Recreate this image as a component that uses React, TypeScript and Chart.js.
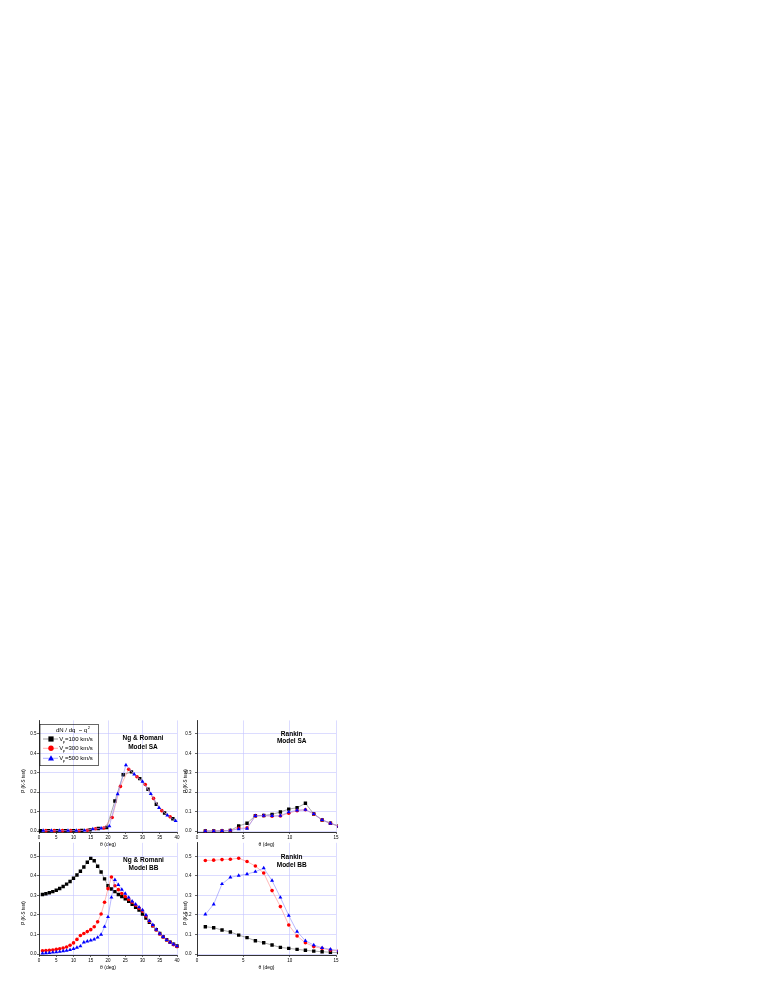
import React, { useEffect, useRef } from "react";
import Chart from "chart.js/auto";

// four P(K-S test) vs theta panels, Origin-style, drawn with Chart.js

// --- Ng & Romani, model SA (series interleave along theta) ---
const ngSaBlackX = [0.4, 2.8, 5.2, 7.6, 10.0, 12.4, 14.8, 17.2, 19.6, 22.0, 24.4, 26.8, 29.2, 31.6, 34.0, 36.4, 38.8];
const ngSaBlackY = [0.002, 0.002, 0.002, 0.002, 0.002, 0.003, 0.006, 0.013, 0.018, 0.155, 0.29, 0.305, 0.27, 0.215, 0.138, 0.093, 0.063];
const ngSaRedX = [2.0, 4.4, 6.8, 9.2, 11.6, 14.0, 16.4, 18.8, 21.2, 23.6, 26.0, 28.4, 30.8, 33.2, 35.6, 38.0];
const ngSaRedY = [0.002, 0.002, 0.002, 0.002, 0.002, 0.004, 0.012, 0.015, 0.07, 0.23, 0.318, 0.28, 0.24, 0.168, 0.105, 0.073];
const ngSaBlueX = [1.2, 3.6, 6.0, 8.4, 10.8, 13.2, 15.6, 18.0, 20.4, 22.8, 25.2, 27.6, 30.0, 32.4, 34.8, 37.2, 39.6];
const ngSaBlueY = [0.002, 0.002, 0.002, 0.002, 0.002, 0.003, 0.01, 0.014, 0.025, 0.19, 0.34, 0.292, 0.255, 0.192, 0.12, 0.081, 0.053];

// --- Ng & Romani, model BB ---
const ngBbX = [
  1, 2, 3, 4, 5, 6, 7, 8, 9, 10, 11, 12, 13, 14, 15, 16, 17, 18, 19, 20,
  21, 22, 23, 24, 25, 26, 27, 28, 29, 30, 31, 32, 33, 34, 35, 36, 37, 38, 39, 40,
];
const ngBbBlack = [
  0.305, 0.309, 0.314, 0.32, 0.327, 0.336, 0.346, 0.358, 0.372, 0.388, 0.405, 0.424, 0.446, 0.47, 0.49, 0.478, 0.45, 0.42, 0.385, 0.35,
  0.333, 0.32, 0.305, 0.295, 0.283, 0.27, 0.255, 0.24, 0.225, 0.205, 0.184, 0.163, 0.145, 0.125, 0.105, 0.088, 0.073, 0.061, 0.05, 0.041,
];
const ngBbRed = [
  0.017, 0.018, 0.019, 0.021, 0.024, 0.027, 0.031, 0.036, 0.045, 0.057, 0.075, 0.095, 0.105, 0.115, 0.125, 0.14, 0.165, 0.205, 0.265, 0.335,
  0.395, 0.35, 0.33, 0.31, 0.295, 0.28, 0.265, 0.25, 0.235, 0.22, 0.195, 0.168, 0.145, 0.123, 0.103, 0.087, 0.072, 0.06, 0.048, 0.038,
];
const ngBbBlue = [
  0.004, 0.005, 0.006, 0.008, 0.01, 0.012, 0.015, 0.018, 0.022, 0.027, 0.033, 0.04, 0.06, 0.065, 0.07, 0.075, 0.085, 0.1, 0.14, 0.19,
  0.29, 0.38, 0.355, 0.33, 0.31, 0.29, 0.27, 0.255, 0.24, 0.225, 0.2, 0.17, 0.15, 0.125, 0.105, 0.088, 0.072, 0.06, 0.05, 0.04,
];

// --- Rankin, models SA and BB (shared theta grid) ---
const rankinX = [0.9, 1.8, 2.7, 3.6, 4.5, 5.4, 6.3, 7.2, 8.1, 9.0, 9.9, 10.8, 11.7, 12.6, 13.5, 14.4, 15.3];
const rkSaBlack = [0, 0, 0.001, 0.003, 0.026, 0.04, 0.079, 0.08, 0.086, 0.098, 0.113, 0.12, 0.143, 0.088, 0.057, 0.04, 0.025];
const rkSaRed = [0, 0, 0.001, 0.003, 0.014, 0.016, 0.078, 0.079, 0.076, 0.078, 0.092, 0.105, 0.11, 0.088, 0.057, 0.04, 0.025];
const rkSaBlue = [0, 0, 0.001, 0.003, 0.01, 0.013, 0.078, 0.08, 0.078, 0.079, 0.098, 0.107, 0.11, 0.088, 0.057, 0.04, 0.025];
const rkBbBlack = [0.14, 0.135, 0.123, 0.113, 0.097, 0.084, 0.068, 0.058, 0.046, 0.034, 0.029, 0.024, 0.019, 0.015, 0.012, 0.009, 0.007];
const rkBbRed = [0.479, 0.481, 0.484, 0.486, 0.491, 0.474, 0.451, 0.415, 0.325, 0.243, 0.149, 0.092, 0.058, 0.038, 0.029, 0.02, 0.016];
const rkBbBlue = [0.203, 0.255, 0.359, 0.393, 0.402, 0.41, 0.422, 0.44, 0.376, 0.29, 0.197, 0.115, 0.068, 0.046, 0.032, 0.024, 0.018];

// ticks
const yTicks = [0, 0.1, 0.2, 0.3, 0.4, 0.5];
const ngXTicks = [0, 5, 10, 15, 20, 25, 30, 35, 40];
const rkXTicks = [0, 5, 10, 15];
const legendLabels = ["=100 km/s", "=300 km/s", "=500 km/s"];

const FONT = "'Liberation Sans', Arial, sans-serif";
const GRID = "#c4c4ff";

type Kind = "black" | "red" | "blue";

const KIND_STYLE: Record<Kind, { marker: string; line: string; pointStyle: string; radius: number; order: number }> = {
  black: { marker: "#000000", line: "#707070", pointStyle: "rect", radius: 2.4, order: 3 },
  red: { marker: "#ff0000", line: "#ff8a8a", pointStyle: "circle", radius: 1.8, order: 2 },
  blue: { marker: "#0000ff", line: "#8a8aff", pointStyle: "triangle", radius: 2.3, order: 1 },
};

interface Series {
  kind: Kind;
  x: number[];
  y: number[];
}

interface PanelProps {
  left: number;
  top: number;
  width: number;
  height: number;
  yAxisWidth: number;
  padTop: number;
  padRight: number;
  yLabelPad: number;
  xMax: number;
  xTicks: number[];
  gridEvery: number;
  series: Series[];
  title: string[];
  titleX: number;
  titleY: number[];
  yTitleX: number;
  yTitleY: number;
  legend?: boolean;
}

function drawLegend(ctx: CanvasRenderingContext2D) {
  // legend box in canvas coords of the top-left panel
  ctx.save();
  ctx.strokeStyle = "#000";
  ctx.lineWidth = 0.6;
  ctx.strokeRect(26, 10.3, 58.3, 41.4);
  ctx.fillStyle = "#000";
  ctx.textBaseline = "middle";
  ctx.textAlign = "left";
  ctx.font = `6px ${FONT}`;
  ctx.fillText("dN / dq  ~ q", 42, 16.5);
  const w = ctx.measureText("dN / dq  ~ q").width;
  ctx.font = `4px ${FONT}`;
  ctx.fillText("2", 42 + w + 0.5, 14);
  const kinds: Kind[] = ["black", "red", "blue"];
  const rows = [25, 34.3, 44.3];
  kinds.forEach((k, i) => {
    const st = KIND_STYLE[k];
    const y = rows[i];
    ctx.strokeStyle = st.line;
    ctx.lineWidth = 0.7;
    ctx.beginPath();
    ctx.moveTo(29, y);
    ctx.lineTo(44, y);
    ctx.stroke();
    ctx.fillStyle = st.marker;
    ctx.beginPath();
    if (k === "black") {
      ctx.rect(37 - 2.6, y - 2.6, 5.2, 5.2);
    } else if (k === "red") {
      ctx.arc(37, y, 2.7, 0, Math.PI * 2);
    } else {
      ctx.moveTo(37, y - 3);
      ctx.lineTo(40, y + 2.3);
      ctx.lineTo(34, y + 2.3);
      ctx.closePath();
    }
    ctx.fill();
    ctx.fillStyle = "#000";
    ctx.font = `6px ${FONT}`;
    ctx.fillText("V", 45.3, y);
    ctx.font = `3.8px ${FONT}`;
    ctx.fillText("p", 48.8, y + 2.8);
    ctx.font = `6px ${FONT}`;
    ctx.fillText(legendLabels[i], 51, y);
  });
  ctx.restore();
}

function Panel(props: PanelProps) {
  const canvasRef = useRef<HTMLCanvasElement>(null);

  useEffect(() => {
    const canvas = canvasRef.current;
    if (!canvas) return;
    const ctx = canvas.getContext("2d");
    if (!ctx) return;

    const textPlugin = {
      id: "panelText",
      afterDraw(chart: Chart) {
        const c = chart.ctx;
        c.save();
        c.fillStyle = "#000";
        c.textAlign = "center";
        c.textBaseline = "middle";
        c.font = `bold 6.5px ${FONT}`;
        props.title.forEach((t, i) => c.fillText(t, props.titleX, props.titleY[i]));
        // rotated y title
        c.font = `4.5px ${FONT}`;
        c.translate(props.yTitleX, props.yTitleY);
        c.rotate(-Math.PI / 2);
        c.fillText("P (K-S test)", 0, 0);
        c.restore();
        if (props.legend) drawLegend(c);
      },
    };

    const chart = new Chart(ctx, {
      type: "line",
      data: {
        datasets: props.series.map((s) => {
          const st = KIND_STYLE[s.kind];
          return {
            data: s.x.map((xv, i) => ({ x: xv, y: s.y[i] })),
            borderColor: st.line,
            borderWidth: 0.6,
            pointStyle: st.pointStyle as any,
            pointRadius: st.radius,
            pointBackgroundColor: st.marker,
            pointBorderColor: st.marker,
            pointBorderWidth: 0,
            tension: 0,
            order: st.order,
            clip: { left: 4, top: 4, right: 2, bottom: 4 },
          };
        }),
      },
      options: {
        animation: false,
        responsive: false,
        maintainAspectRatio: false,
        layout: { padding: { top: props.padTop, right: props.padRight, left: 0, bottom: 0 } },
        plugins: { legend: { display: false }, tooltip: { enabled: false } },
        scales: {
          x: {
            type: "linear",
            min: 0,
            max: props.xMax,
            afterBuildTicks: (axis: any) => {
              axis.ticks = props.xTicks.map((v) => ({ value: v }));
            },
            afterFit: (scale: any) => {
              scale.height = 16;
            },
            grid: {
              color: (c: any) =>
                c.tick && c.tick.value > 0 && c.tick.value % props.gridEvery === 0 ? GRID : "rgba(0,0,0,0)",
              lineWidth: 0.6,
              tickColor: "#000",
              tickLength: 2,
              tickWidth: 0.6,
            },
            border: { color: "#000", width: 0.8 },
            ticks: {
              color: "#000",
              font: { family: FONT, size: 4.5 },
              padding: 1,
              maxRotation: 0,
              autoSkip: false,
              callback: (v: any) => String(v),
            },
            title: {
              display: true,
              text: "θ (deg)",
              color: "#000",
              font: { family: FONT, size: 5 },
              padding: 0,
            },
          },
          y: {
            type: "linear",
            min: -0.005,
            max: 0.57,
            afterBuildTicks: (axis: any) => {
              axis.ticks = yTicks.map((v) => ({ value: v }));
            },
            afterFit: (scale: any) => {
              scale.width = props.yAxisWidth;
            },
            grid: {
              color: GRID,
              lineWidth: 0.6,
              tickColor: "#000",
              tickLength: 2,
              tickWidth: 0.6,
            },
            border: { color: "#000", width: 0.8 },
            ticks: {
              color: "#000",
              font: { family: FONT, size: 4.5 },
              padding: props.yLabelPad,
              autoSkip: false,
              callback: (v: any) => Number(v).toFixed(1),
            },
          },
        },
      },
      plugins: [textPlugin],
    });

    return () => {
      chart.destroy();
    };
  }, []);

  return (
    <canvas
      ref={canvasRef}
      width={props.width}
      height={props.height}
      style={{
        position: "absolute",
        left: props.left,
        top: props.top,
        width: props.width,
        height: props.height,
      }}
    />
  );
}

export default function App() {
  return (
    <div style={{ position: "absolute", left: 0, top: 0, width: 766, height: 991, background: "#fff" }}>
      <Panel
        left={14}
        top={714}
        width={170}
        height={134}
        yAxisWidth={25}
        padTop={6.4}
        padRight={7}
        yLabelPad={0.5}
        xMax={40}
        xTicks={ngXTicks}
        gridEvery={10}
        series={[
          { kind: "black", x: ngSaBlackX, y: ngSaBlackY },
          { kind: "red", x: ngSaRedX, y: ngSaRedY },
          { kind: "blue", x: ngSaBlueX, y: ngSaBlueY },
        ]}
        title={["Ng & Romani", "Model SA"]}
        titleX={129}
        titleY={[24.3, 33.3]}
        yTitleX={10}
        yTitleY={67}
        legend
      />
      <Panel
        left={180}
        top={714}
        width={163}
        height={134}
        yAxisWidth={17}
        padTop={6.4}
        padRight={7}
        yLabelPad={3.5}
        xMax={15}
        xTicks={rkXTicks}
        gridEvery={5}
        series={[
          { kind: "black", x: rankinX, y: rkSaBlack },
          { kind: "red", x: rankinX, y: rkSaRed },
          { kind: "blue", x: rankinX, y: rkSaBlue },
        ]}
        title={["Rankin", "Model SA"]}
        titleX={111.7}
        titleY={[20, 27.7]}
        yTitleX={6}
        yTitleY={67}
      />
      <Panel
        left={14}
        top={836}
        width={170}
        height={135}
        yAxisWidth={25}
        padTop={6.8}
        padRight={7}
        yLabelPad={0.5}
        xMax={40}
        xTicks={ngXTicks}
        gridEvery={10}
        series={[
          { kind: "black", x: ngBbX, y: ngBbBlack },
          { kind: "red", x: ngBbX, y: ngBbRed },
          { kind: "blue", x: ngBbX, y: ngBbBlue },
        ]}
        title={["Ng & Romani", "Model BB"]}
        titleX={129.5}
        titleY={[24, 32.3]}
        yTitleX={10}
        yTitleY={77}
      />
      <Panel
        left={180}
        top={836}
        width={163}
        height={135}
        yAxisWidth={17}
        padTop={6.8}
        padRight={7}
        yLabelPad={3.5}
        xMax={15}
        xTicks={rkXTicks}
        gridEvery={5}
        series={[
          { kind: "black", x: rankinX, y: rkBbBlack },
          { kind: "red", x: rankinX, y: rkBbRed },
          { kind: "blue", x: rankinX, y: rkBbBlue },
        ]}
        title={["Rankin", "Model BB"]}
        titleX={111.7}
        titleY={[21.3, 29]}
        yTitleX={6}
        yTitleY={77}
      />
    </div>
  );
}
